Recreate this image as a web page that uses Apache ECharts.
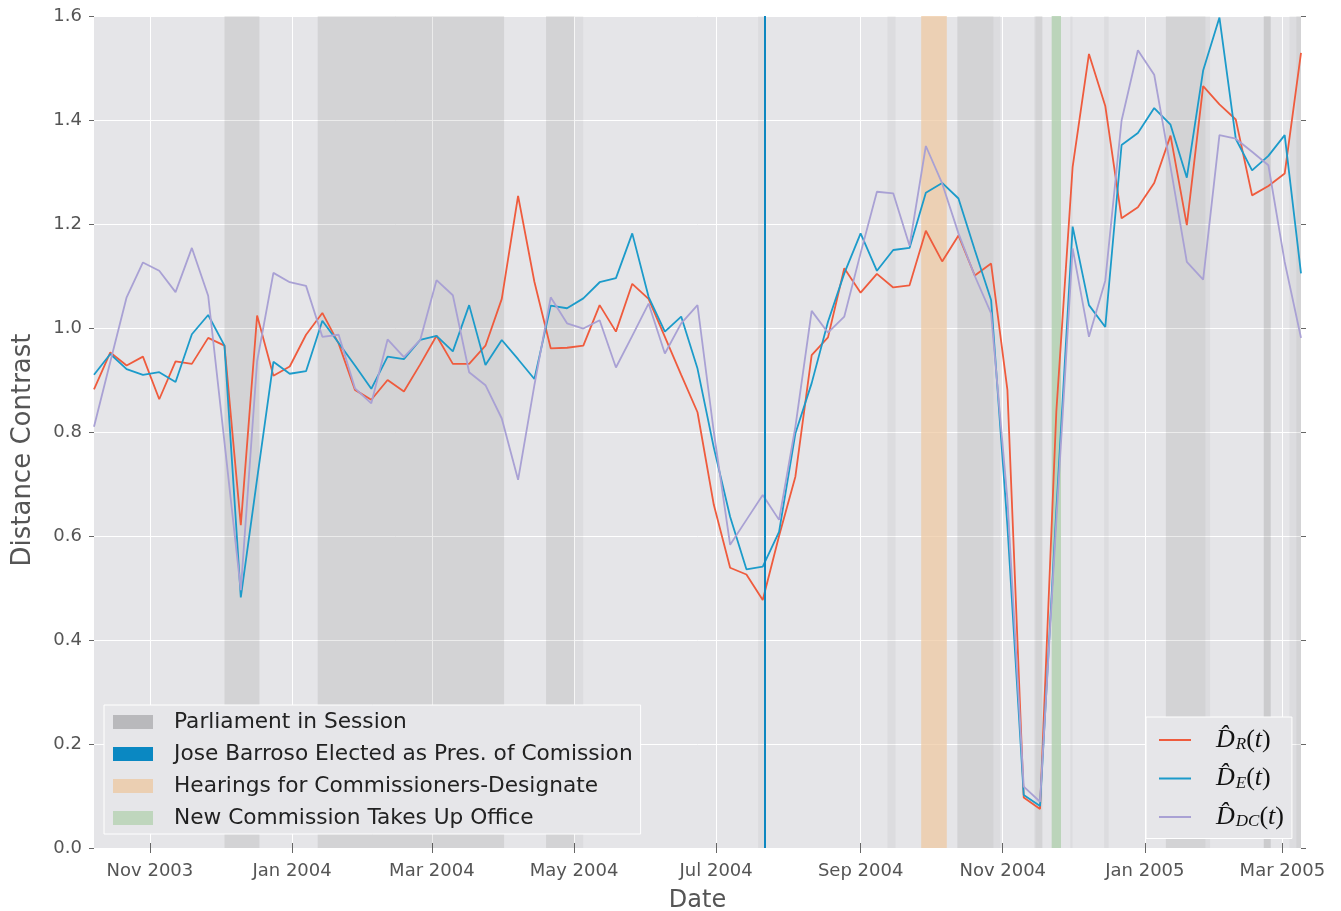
<!DOCTYPE html>
<html><head><meta charset="utf-8">
<script src="https://cdn.jsdelivr.net/npm/echarts@6/dist/echarts.min.js"></script>
<style>html,body{margin:0;padding:0;background:#fff}#c{width:1341px;height:911px}</style>
</head><body><div id="c"></div>
<script>
// ---------------- data ----------------
const dates = [
 '2003-10-08','2003-10-15','2003-10-22','2003-10-29','2003-11-05','2003-11-12','2003-11-19','2003-11-26',
 '2003-12-03','2003-12-10','2003-12-17','2003-12-24','2003-12-31',
 '2004-01-07','2004-01-14','2004-01-21','2004-01-28','2004-02-04','2004-02-11','2004-02-18','2004-02-25',
 '2004-03-03','2004-03-10','2004-03-17','2004-03-24','2004-03-31','2004-04-07','2004-04-14','2004-04-21','2004-04-28',
 '2004-05-05','2004-05-12','2004-05-19','2004-05-26','2004-06-02','2004-06-09','2004-06-16','2004-06-23','2004-06-30',
 '2004-07-07','2004-07-14','2004-07-21','2004-07-28','2004-08-04','2004-08-11','2004-08-18','2004-08-25',
 '2004-09-01','2004-09-08','2004-09-15','2004-09-22','2004-09-29','2004-10-06','2004-10-13','2004-10-20','2004-10-27',
 '2004-11-03','2004-11-10','2004-11-17','2004-11-24','2004-12-01','2004-12-08','2004-12-15','2004-12-22','2004-12-29',
 '2005-01-05','2005-01-12','2005-01-19','2005-01-26','2005-02-02','2005-02-09','2005-02-16','2005-02-23',
 '2005-03-02','2005-03-09'
];
const dR = [
 0.882,0.953,0.928,0.945,0.863,0.936,0.931,0.981,0.966,0.621,1.024,0.908,0.926,0.987,1.029,0.970,
 0.881,0.862,0.900,0.878,0.930,0.985,0.931,0.931,0.966,1.056,1.254,1.089,0.961,0.962,0.966,1.044,
 0.993,1.085,1.056,0.983,0.910,0.838,0.660,0.539,0.526,0.477,0.600,0.714,0.948,0.982,1.115,1.068,
 1.104,1.078,1.082,1.187,1.128,1.178,1.101,1.124,0.881,0.097,0.075,0.840,1.310,1.527,1.427,1.211,
 1.232,1.279,1.370,1.198,1.465,1.430,1.401,1.255,1.273,1.297,1.529
];
const dE = [
 0.910,0.950,0.921,0.910,0.915,0.896,0.988,1.025,0.966,0.482,0.710,0.935,0.912,0.917,1.014,0.971,
 0.928,0.883,0.945,0.940,0.977,0.985,0.955,1.044,0.929,0.977,0.940,0.902,1.043,1.038,1.057,1.088,
 1.096,1.182,1.060,0.993,1.022,0.922,0.770,0.637,0.536,0.541,0.608,0.797,0.894,1.012,1.105,1.182,
 1.110,1.150,1.154,1.260,1.279,1.249,1.150,1.054,0.620,0.102,0.081,0.650,1.195,1.044,1.002,1.352,
 1.375,1.423,1.391,1.289,1.495,1.597,1.364,1.303,1.331,1.371,1.105
];
const dDC = [
 0.810,0.935,1.059,1.126,1.110,1.069,1.154,1.062,0.780,0.496,0.936,1.106,1.088,1.081,0.983,0.987,
 0.884,0.855,0.978,0.944,0.977,1.092,1.063,0.915,0.890,0.826,0.708,0.890,1.059,1.009,0.999,1.015,
 0.924,0.985,1.047,0.951,1.009,1.044,0.800,0.583,0.631,0.679,0.631,0.810,1.033,0.991,1.022,1.144,
 1.262,1.259,1.158,1.350,1.278,1.182,1.100,1.028,0.670,0.118,0.089,0.630,1.153,0.983,1.091,1.399,
 1.534,1.487,1.310,1.127,1.093,1.371,1.364,1.339,1.313,1.127,0.981
];
const seriesNames = ['D_R', 'D_E', 'D_DC'];
const subscripts = ['R', 'E', 'DC'];
const xRange = ['2003-10-08', '2005-03-09'];
const tickDates = ['2003-11-01','2004-01-01','2004-03-01','2004-05-01','2004-07-01','2004-09-01','2004-11-01','2005-01-01','2005-03-01'];
const monthNames = ['Jan','Feb','Mar','Apr','May','Jun','Jul','Aug','Sep','Oct','Nov','Dec'];
// Parliament sessions (overlapping spans render darker)
const sessionPeriods = [
 ['2003-12-03','2003-12-18'], ['2004-01-12','2004-04-01'], ['2004-04-19','2004-05-01'],
 ['2004-10-12T12:00:00Z','2004-10-28'], ['2004-11-15','2004-11-18'], ['2005-01-10','2005-01-27'],
 ['2005-02-21','2005-02-24'], ['2005-03-07','2005-03-09']
];
const partialSessionPeriods = [
 ['2004-05-01','2004-05-05'], ['2004-07-19','2004-07-22'], ['2004-09-12T12:00:00Z','2004-09-16'],
 ['2004-10-28','2004-10-31'], ['2004-11-14T12:00:00Z','2004-11-15'], ['2004-11-30','2004-12-01'],
 ['2004-12-14T12:00:00Z','2004-12-16T12:00:00Z'], ['2005-01-27','2005-01-29'], ['2005-02-21','2005-02-24'],
 ['2005-03-04','2005-03-07']
];
const barrosoElected = '2004-07-22';
const hearingPeriods = [['2004-09-27','2004-10-08']];
const newCommissionPeriods = [['2004-11-22','2004-11-26']];
const bandNames = ['Parliament in Session', 'Jose Barroso Elected as Pres. of Comission',
                   'Hearings for Commissioners-Designate', 'New Commission Takes Up Office'];

// ---------------- chart ----------------
const ts = s => Date.parse(s.length === 10 ? s + 'T00:00:00Z' : s);
const fmtDate = v => { const d = new Date(v); return monthNames[d.getUTCMonth()] + ' ' + d.getUTCFullYear(); };
const tickVals = tickDates.map(ts);
const pts = arr => arr.map((v, i) => [ts(dates[i]), v]);
const areaItems = (list, color) => list.map(p => [{ xAxis: ts(p[0]), itemStyle: { color } }, { xAxis: ts(p[1]) }]);

const gray = '#555555';
const tickStyle = { show: true, inside: false, length: 5, lineStyle: { color: '#666', width: 1 } };
const lineColors = ['#EF5B3D', '#1C9BCA', '#A9A1D4'];
const bandColors = ['#B9B9BC', '#0A88C2', '#EBCFB2', '#BFD6BD'];
const serif = 'Liberation Serif';

const rich = {
  d: { fontFamily: serif, fontStyle: 'italic', fontSize: 26, color: '#111', lineHeight: 27 },
  s: { fontFamily: serif, fontStyle: 'italic', fontSize: 17, color: '#111', padding: [10, 0, 0, 1] },
  p: { fontFamily: serif, fontSize: 26, color: '#111', lineHeight: 27 },
  t: { fontFamily: serif, fontStyle: 'italic', fontSize: 26, color: '#111', lineHeight: 27 }
};
const mathLabel = name => {
  const k = seriesNames.indexOf(name);
  return '{d|D\u0302}{s|' + subscripts[k] + '}{p|(}{t|t}{p|)}';
};

const chart = echarts.init(document.getElementById('c'), null, { renderer: 'canvas' });
const xBase = { type: 'value', min: ts(xRange[0]), max: ts(xRange[1]) };
const option = {
  animation: false,
  backgroundColor: '#ffffff',
  grid: { left: 94, right: 40, top: 16, bottom: 63, show: true, backgroundColor: '#E5E5E8', borderWidth: 0,
          containLabel: false, outerBoundsMode: 'none' },
  xAxis: [
    Object.assign({}, xBase, {
      position: 'bottom', name: 'Date', nameLocation: 'middle', nameGap: 41,
      nameTextStyle: { fontFamily: 'DejaVu Sans', fontSize: 24, color: gray },
      axisLine: { show: false },
      axisTick: Object.assign({ customValues: tickVals }, tickStyle),
      axisLabel: { customValues: tickVals, formatter: fmtDate, margin: 14, fontFamily: 'DejaVu Sans', fontSize: 18, color: gray },
      splitLine: { show: true, lineStyle: { color: '#ffffff', width: 1 } }
    }),
    Object.assign({}, xBase, {
      position: 'top', axisLine: { show: false },
      axisTick: Object.assign({ customValues: tickVals }, tickStyle),
      axisLabel: { show: false }, splitLine: { show: false }
    })
  ],
  yAxis: [
    {
      type: 'value', min: 0, max: 1.6, interval: 0.2, position: 'left',
      name: 'Distance Contrast', nameLocation: 'middle', nameGap: 58,
      nameTextStyle: { fontFamily: 'DejaVu Sans', fontSize: 26, color: gray, padding: [0, 36, 0, 0] },
      axisLine: { show: false }, axisTick: tickStyle,
      axisLabel: { formatter: v => v.toFixed(1), margin: 12, fontFamily: 'DejaVu Sans', fontSize: 18, color: gray },
      splitLine: { show: true, lineStyle: { color: '#ffffff', width: 1 } }
    },
    {
      type: 'value', min: 0, max: 1.6, interval: 0.2, position: 'right',
      axisLine: { show: false }, axisTick: tickStyle, axisLabel: { show: false }, splitLine: { show: false }
    }
  ],
  legend: [
    {
      data: bandNames.map((n, i) => ({ name: n, itemStyle: { color: bandColors[i], opacity: 1 } })),
      orient: 'vertical', left: 104, top: 705, icon: 'rect', itemWidth: 40, itemHeight: 14, itemGap: 10,
      padding: [6, 8, 5, 9], backgroundColor: '#E6E6E9', borderColor: '#ffffff', borderWidth: 1,
      selectedMode: false,
      textStyle: { fontFamily: 'DejaVu Sans', fontSize: 21.7, color: '#222', lineHeight: 22, padding: [0, 0, 0, 16] }
    },
    {
      data: seriesNames, orient: 'vertical', left: 1146, top: 717, icon: 'rect', itemWidth: 32, itemHeight: 2, itemGap: 12,
      padding: [10, 8, 8, 13], backgroundColor: '#E6E6E9', borderColor: '#ffffff', borderWidth: 1,
      selectedMode: false, formatter: mathLabel,
      textStyle: { rich: rich, padding: [0, 0, 0, 20] }
    }
  ],
  series: [
    {
      name: bandNames[0], type: 'scatter', data: [], z: 1, silent: true, itemStyle: { color: bandColors[0], opacity: 1 },
      markArea: { silent: true, data: areaItems(sessionPeriods, 'rgba(0,0,0,0.08)').concat(areaItems(partialSessionPeriods, 'rgba(0,0,0,0.035)')) }
    },
    {
      name: bandNames[1], type: 'scatter', data: [], z: 4, silent: true, itemStyle: { color: bandColors[1], opacity: 1 },
      markLine: { silent: true, symbol: ['none', 'none'], label: { show: false },
        lineStyle: { color: '#0D87C0', width: 2, type: 'solid' }, data: [{ xAxis: ts(barrosoElected) }] }
    },
    {
      name: bandNames[2], type: 'scatter', data: [], z: 1, silent: true, itemStyle: { color: bandColors[2], opacity: 1 },
      markArea: { silent: true, data: areaItems(hearingPeriods, 'rgba(238,200,160,0.72)') }
    },
    {
      name: bandNames[3], type: 'scatter', data: [], z: 1, silent: true, itemStyle: { color: bandColors[3], opacity: 1 },
      markArea: { silent: true, data: areaItems(newCommissionPeriods, 'rgba(176,208,174,0.8)') }
    },
    { name: seriesNames[0], type: 'line', data: pts(dR), symbol: 'none', z: 3, color: lineColors[0], lineStyle: { width: 1.8 } },
    { name: seriesNames[1], type: 'line', data: pts(dE), symbol: 'none', z: 3, color: lineColors[1], lineStyle: { width: 1.8 } },
    { name: seriesNames[2], type: 'line', data: pts(dDC), symbol: 'none', z: 3, color: lineColors[2], lineStyle: { width: 1.8 } }
  ]
};
chart.setOption(option);
</script>
</body></html>
